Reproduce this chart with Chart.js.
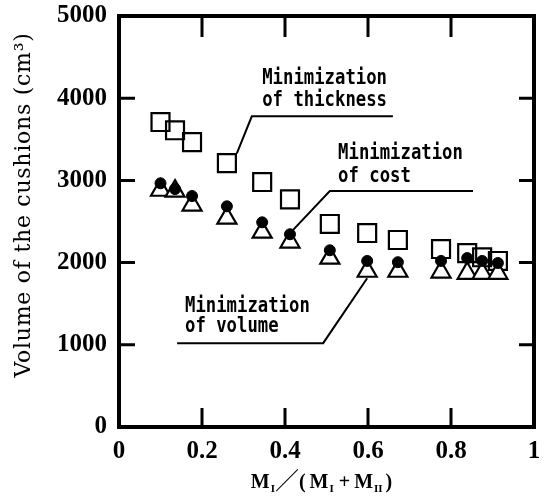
<!DOCTYPE html>
<html>
<head>
<meta charset="utf-8">
<script src="https://cdn.jsdelivr.net/npm/chart.js@4.4.0/dist/chart.umd.min.js"></script>
<style>
html, body { margin: 0; padding: 0; background: #fff; }
</style>
</head>
<body>
<canvas id="myChart" width="550" height="503"></canvas>
<script>
// M_I / (M_I + M_II)
var ratio = [0.1, 0.135, 0.176, 0.26, 0.345, 0.412, 0.508, 0.598, 0.672, 0.776, 0.839, 0.875, 0.913];
// volume of the cushions (cm3) for each design goal
var minThickness = [3710, 3610, 3465, 3210, 2980, 2770, 2470, 2360, 2275, 2165, 2115, 2065, 2020];
var minCost = [2965, 2895, 2810, 2685, 2490, 2345, 2150, 2020, 2005, 2020, 2055, 2020, 1995];
var minVolume = [2880, 2870, 2700, 2540, 2370, 2250, 2055, 1895, 1895, 1885, 1870, 1870, 1870];

var xTicks = [0, 0.2, 0.4, 0.6, 0.8, 1];
var yTicks = [0, 1000, 2000, 3000, 4000, 5000];

// callout labels: text lines, where the text starts, leader line path (data units)
var callouts = [
    { lines: ['Minimization', 'of thickness'], at: [0.345, 4170, 3903],
      path: [[0.66, 3780], [0.32, 3780], [0.284, 3330]] },
    { lines: ['Minimization', 'of cost'], at: [0.528, 3258, 2979],
      path: [[0.853, 2870], [0.508, 2870], [0.419, 2395]] },
    { lines: ['Minimization', 'of volume'], at: [0.159, 1398, 1155],
      path: [[0.14, 1020], [0.492, 1020], [0.598, 1810]] }
];

function pts(ys) {
    var out = [];
    for (var i = 0; i < ratio.length; i++) out.push({ x: ratio[i], y: ys[i] });
    return out;
}

var tickFont = { family: 'Liberation Serif', weight: 'bold', size: 25 };

var deco = {
    id: 'deco',
    afterDatasetsDraw: function(chart) {
        var ctx = chart.ctx, a = chart.chartArea;
        var sx = chart.scales.x, sy = chart.scales.y;
        ctx.save();
        ctx.strokeStyle = '#000';
        // frame
        ctx.lineWidth = 4;
        ctx.strokeRect(a.left, a.top, a.right - a.left, a.bottom - a.top);
        // inward ticks
        ctx.lineWidth = 3;
        ctx.beginPath();
        for (var i = 1; i < yTicks.length - 1; i++) {
            var py = sy.getPixelForValue(yTicks[i]);
            ctx.moveTo(a.left, py); ctx.lineTo(a.left + 16, py);
            ctx.moveTo(a.right - 15, py); ctx.lineTo(a.right, py);
        }
        for (var j = 1; j < xTicks.length - 1; j++) {
            var px = sx.getPixelForValue(xTicks[j]);
            ctx.moveTo(px, a.bottom); ctx.lineTo(px, a.bottom - 19);
            ctx.moveTo(px, a.top); ctx.lineTo(px, a.top + 21);
        }
        ctx.stroke();

        // callouts
        ctx.lineWidth = 2;
        ctx.fillStyle = '#000';
        ctx.font = 'bold 22px "DejaVu Sans Mono"';
        var cw = ctx.measureText('M').width;
        var squeeze = 10.4 / cw;
        callouts.forEach(function(c) {
            ctx.beginPath();
            c.path.forEach(function(p, k) {
                var X = sx.getPixelForValue(p[0]), Y = sy.getPixelForValue(p[1]);
                if (k == 0) ctx.moveTo(X, Y); else ctx.lineTo(X, Y);
            });
            ctx.stroke();
            var tx = sx.getPixelForValue(c.at[0]);
            for (var n = 0; n < c.lines.length; n++) {
                var ty = sy.getPixelForValue(c.at[n + 1]);
                ctx.save();
                ctx.translate(tx, ty);
                ctx.scale(squeeze, 1);
                ctx.textBaseline = 'alphabetic';
                ctx.fillText(c.lines[n], 0, 0);
                ctx.restore();
            }
        });
        ctx.restore();
    },
    afterDraw: function(chart) {
        var ctx = chart.ctx;
        ctx.save();
        ctx.fillStyle = '#000';
        // y axis title
        var title = 'Volume of the cushions (cm\u00B3)';
        ctx.font = '22px "DejaVu Serif"';
        var w = ctx.measureText(title).width;
        if ('letterSpacing' in ctx) {
            ctx.letterSpacing = ((345 - w) / title.length) + 'px';
            w = ctx.measureText(title).width;
        }
        ctx.translate(30, 205);
        ctx.rotate(-Math.PI / 2);
        ctx.textBaseline = 'alphabetic';
        ctx.fillText(title, -w / 2, 0);
        ctx.restore();

        // x axis title with roman subscripts
        ctx.save();
        ctx.fillStyle = '#000';
        ctx.textBaseline = 'alphabetic';
        var big = 'bold 20px "Liberation Serif"', small = 'bold 11px "Liberation Serif"';
        var parts = [
            ['M', big, 0, 1], ['I', small, 4, 0], ['\uFF0F', '24px "Noto Sans CJK JP"', 1, 0],
            ['(', big, 0, 4], ['M', big, 0, 1], ['I', small, 4, 5], ['+', big, 0, 4],
            ['M', big, 0, 1], ['II', small, 4, 3], [')', big, 0, 0]
        ];
        var total = 0;
        parts.forEach(function(p) { ctx.font = p[1]; total += ctx.measureText(p[0]).width + p[3]; });
        var cx = (chart.chartArea.left + chart.chartArea.right) / 2 - 5 - total / 2;
        parts.forEach(function(p) {
            ctx.font = p[1];
            ctx.fillText(p[0], cx, 488 + p[2]);
            cx += ctx.measureText(p[0]).width + p[3];
        });
        ctx.restore();
    }
};

var chart = new Chart(document.getElementById('myChart').getContext('2d'), {
    type: 'scatter',
    data: {
        datasets: [
            { label: 'Minimization of cost', data: pts(minCost), pointStyle: 'circle',
              pointRadius: 5.5, backgroundColor: '#000', borderColor: '#000', borderWidth: 1 },
            { label: 'Minimization of volume', data: pts(minVolume), pointStyle: 'triangle',
              pointRadius: 11, backgroundColor: '#fff', borderColor: '#000', borderWidth: 2.2 },
            { label: 'Minimization of thickness', data: pts(minThickness), pointStyle: 'rect',
              pointRadius: 12.7, backgroundColor: 'rgba(255,255,255,0)', borderColor: '#000', borderWidth: 2.2 }
        ]
    },
    options: {
        responsive: false,
        animation: false,
        layout: { padding: { top: 16, right: 16, left: 0, bottom: 0 } },
        plugins: { legend: { display: false }, tooltip: { enabled: false } },
        scales: {
            x: {
                type: 'linear', min: 0, max: 1,
                grid: { display: false, drawTicks: false },
                border: { display: false },
                afterBuildTicks: function(s) { s.ticks = xTicks.map(function(v) { return { value: v }; }); },
                ticks: { font: tickFont, color: '#000', padding: 10, maxRotation: 0,
                         callback: function(v) { return String(Number(v.toFixed(1))); } },
                afterFit: function(s) { s.height = 76; s.paddingLeft = 0; s.paddingRight = 0; }
            },
            y: {
                type: 'linear', min: 0, max: 5000,
                grid: { display: false, drawTicks: false },
                border: { display: false },
                afterBuildTicks: function(s) { s.ticks = yTicks.map(function(v) { return { value: v }; }); },
                ticks: { font: tickFont, color: '#000', padding: 12,
                         callback: function(v) { return String(v); } },
                afterFit: function(s) { s.width = 119; s.paddingTop = 0; s.paddingBottom = 0; }
            }
        }
    },
    plugins: [deco]
});
</script>
</body>
</html>
